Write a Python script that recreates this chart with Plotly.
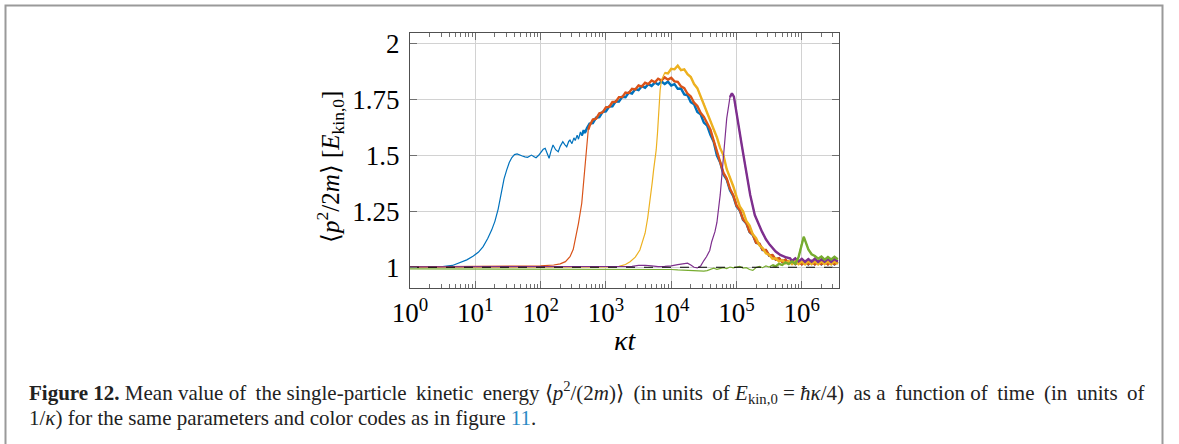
import numpy as np
import plotly.graph_objects as go

W, H = 1179, 444

# ---- data: log10(kappa t) and <p^2/2m> in units of E_kin,0 ----
blue_log_t = [0.00, 0.30, 0.50, 0.65, 0.77, 0.87, 0.97, 1.05, 1.12, 1.19, 1.25, 1.30, 1.35, 1.40,
              1.44, 1.48, 1.52, 1.56, 1.60, 1.64, 1.68, 1.72, 1.76, 1.80, 1.83, 1.86, 1.90, 1.93,
              1.97, 2.00, 2.04, 2.07, 2.10, 2.13, 2.16, 2.19, 2.23, 2.27, 2.30, 2.34, 2.37, 2.40,
              2.43, 2.45, 2.48, 2.51, 2.53, 2.56, 2.58, 2.61, 2.63, 2.66, 2.68, 2.71,
              2.75, 2.80, 2.85, 2.90, 2.95, 3.00, 3.05, 3.10, 3.15, 3.20, 3.25, 3.30, 3.35, 3.40,
              3.45, 3.50, 3.55, 3.60, 3.65, 3.70, 3.75, 3.80, 3.85, 3.90, 3.95, 4.00, 4.05, 4.10,
              4.15, 4.20, 4.25, 4.30, 4.35, 4.40, 4.45, 4.50, 4.55, 4.60, 4.65, 4.70, 4.75, 4.80,
              4.85, 4.90, 4.95, 5.00, 5.05, 5.10, 5.15, 5.20, 5.25, 5.30, 5.35, 5.40, 5.45, 5.50,
              5.55, 5.60, 5.65, 5.70, 5.75, 5.80, 5.85, 5.90, 5.95, 6.00, 6.05, 6.10, 6.15, 6.20,
              6.25, 6.30, 6.35, 6.40, 6.45, 6.50, 6.55]
blue_vals = [1.000, 1.000, 1.003, 1.008, 1.020, 1.033, 1.050, 1.068, 1.092, 1.128, 1.166, 1.205, 1.260, 1.335,
             1.395, 1.434, 1.468, 1.490, 1.503, 1.506, 1.503, 1.497, 1.493, 1.491, 1.496, 1.501, 1.494, 1.489,
             1.500, 1.512, 1.527, 1.531, 1.508, 1.487, 1.520, 1.546, 1.525, 1.516, 1.540, 1.561, 1.548, 1.538,
             1.562, 1.568, 1.552, 1.578, 1.566, 1.590, 1.572, 1.604, 1.588, 1.612, 1.600, 1.622,
             1.642, 1.644, 1.668, 1.670, 1.694, 1.696, 1.718, 1.719, 1.741, 1.740, 1.761, 1.759, 1.780, 1.776,
             1.796, 1.791, 1.809, 1.802, 1.818, 1.810, 1.825, 1.816, 1.830, 1.819, 1.829, 1.812, 1.818, 1.797,
             1.798, 1.772, 1.768, 1.737, 1.728, 1.694, 1.683, 1.646, 1.633, 1.592, 1.561, 1.499, 1.468, 1.414,
             1.391, 1.344, 1.318, 1.272, 1.253, 1.212, 1.196, 1.157, 1.144, 1.109, 1.104, 1.077, 1.076, 1.052,
             1.054, 1.034, 1.040, 1.024, 1.033, 1.019, 1.028, 1.015, 1.026, 1.014, 1.026, 1.013, 1.027, 1.014,
             1.026, 1.013, 1.027, 1.014, 1.026, 1.013, 1.026]

red_log_t = [0.00, 1.50, 2.00, 2.20, 2.30, 2.38, 2.45, 2.50, 2.53, 2.58, 2.63, 2.66, 2.69, 2.71, 2.73,
             2.75, 2.80, 2.85, 2.90, 2.95, 3.00, 3.05, 3.10, 3.15, 3.20, 3.25, 3.30, 3.35, 3.40,
             3.45, 3.50, 3.55, 3.60, 3.65, 3.70, 3.75, 3.80, 3.85, 3.90, 3.95, 4.00, 4.05, 4.10,
             4.15, 4.20, 4.25, 4.30, 4.35, 4.40, 4.45, 4.50, 4.55, 4.60, 4.65, 4.70, 4.75, 4.80,
             4.85, 4.90, 4.95, 5.00, 5.05, 5.10, 5.15, 5.20, 5.25, 5.30, 5.35, 5.40, 5.45, 5.50,
             5.55, 5.60, 5.65, 5.70, 5.75, 5.80, 5.85, 5.90, 5.95, 6.00, 6.05, 6.10, 6.15, 6.20,
             6.25, 6.30, 6.35, 6.40, 6.45, 6.50, 6.55]
red_vals = [1.002, 1.003, 1.006, 1.010, 1.015, 1.025, 1.047, 1.080, 1.122, 1.196, 1.286, 1.390, 1.479, 1.568, 1.615,
            1.632, 1.660, 1.664, 1.688, 1.692, 1.714, 1.716, 1.738, 1.739, 1.760, 1.760, 1.780, 1.778, 1.797,
            1.794, 1.812, 1.807, 1.824, 1.818, 1.834, 1.826, 1.842, 1.834, 1.848, 1.838, 1.846, 1.830, 1.828,
            1.808, 1.800, 1.775, 1.763, 1.735, 1.720, 1.690, 1.672, 1.640, 1.615, 1.566, 1.515, 1.474, 1.422,
            1.396, 1.350, 1.322, 1.276, 1.256, 1.214, 1.198, 1.158, 1.146, 1.110, 1.106, 1.078, 1.077, 1.053,
            1.055, 1.035, 1.041, 1.024, 1.034, 1.018, 1.029, 1.014, 1.027, 1.013, 1.026, 1.014, 1.027, 1.013,
            1.026, 1.014, 1.026, 1.013, 1.027, 1.014, 1.026]

yellow_log_t = [0.00, 1.00, 2.00, 3.00, 3.20, 3.30, 3.37, 3.45, 3.52, 3.56, 3.60, 3.64, 3.68, 3.71, 3.73,
                3.77, 3.79, 3.81, 3.83, 3.85,
                3.90, 3.95, 4.00, 4.05, 4.10, 4.15, 4.20, 4.25, 4.30, 4.35, 4.40, 4.45, 4.50, 4.55,
                4.60, 4.65, 4.70, 4.75, 4.80, 4.85, 4.90, 4.95, 5.00, 5.05, 5.10, 5.15, 5.20, 5.25,
                5.30, 5.35, 5.40, 5.45, 5.50, 5.55, 5.60, 5.65, 5.70, 5.75, 5.80, 5.85, 5.90, 5.95,
                6.00, 6.05, 6.10, 6.15, 6.20, 6.25, 6.30, 6.35, 6.40, 6.45, 6.50, 6.55]
yellow_vals = [1.000, 1.000, 1.001, 1.002, 1.004, 1.012, 1.025, 1.045, 1.077, 1.110, 1.152, 1.220, 1.300, 1.380, 1.434,
               1.524, 1.600, 1.700, 1.790, 1.835,
               1.868, 1.866, 1.886, 1.884, 1.900, 1.880, 1.884, 1.862, 1.850, 1.818, 1.800, 1.762, 1.730, 1.688,
               1.655, 1.612, 1.580, 1.532, 1.500, 1.438, 1.402, 1.362, 1.315, 1.272, 1.250, 1.207, 1.186, 1.147,
               1.130, 1.098, 1.086, 1.062, 1.056, 1.038, 1.040, 1.026, 1.032, 1.018, 1.028, 1.014, 1.027, 1.014,
               1.026, 1.013, 1.027, 1.014, 1.026, 1.013, 1.027, 1.014, 1.026, 1.013, 1.027, 1.014]

purple_log_t = [0.00, 1.00, 2.00, 3.00, 3.40, 3.50, 3.60, 3.70, 3.80, 3.90, 4.00, 4.10, 4.20, 4.25, 4.30,
                4.35, 4.40, 4.45, 4.50, 4.54, 4.59, 4.62, 4.67, 4.70, 4.75, 4.80, 4.85, 4.90, 4.93,
                4.96, 4.98, 5.03, 5.08, 5.14, 5.21, 5.28, 5.35, 5.39, 5.45, 5.51, 5.60, 5.67, 5.75, 5.82,
                5.85, 5.90, 5.95, 6.00, 6.05, 6.10, 6.15, 6.20, 6.25, 6.30, 6.35, 6.40, 6.45, 6.50, 6.55]
purple_vals = [1.002, 1.002, 1.002, 1.003, 1.004, 1.008, 1.009, 1.006, 1.003, 1.004, 1.006, 1.012, 1.016, 1.018, 1.010,
               1.000, 0.997, 1.005, 1.030, 1.047, 1.075, 1.114, 1.159, 1.200, 1.323, 1.487, 1.665, 1.760, 1.777,
               1.762, 1.725, 1.620, 1.546, 1.442, 1.323, 1.233, 1.180, 1.159, 1.125, 1.100, 1.070, 1.055, 1.045, 1.040,
               1.028, 1.040, 1.026, 1.038, 1.024, 1.037, 1.025, 1.038, 1.024, 1.036, 1.025, 1.038, 1.024, 1.037, 1.026]

green_log_t = [0.00, 1.00, 2.00, 3.00, 3.90, 4.00, 4.10, 4.20, 4.30, 4.40, 4.50, 4.55, 4.60, 4.65, 4.70,
               4.75, 4.80, 4.85, 4.90, 4.95, 5.00, 5.05, 5.10, 5.15, 5.20, 5.25, 5.30, 5.35, 5.40,
               5.45, 5.50, 5.55, 5.60, 5.65, 5.70, 5.75, 5.80, 5.85, 5.90, 5.95, 6.00, 6.03, 6.06,
               6.10, 6.15, 6.20, 6.25, 6.30, 6.35, 6.40, 6.45, 6.50, 6.55]
green_vals = [0.993, 0.993, 0.993, 0.993, 0.993, 0.990, 0.988, 0.986, 0.984, 0.983, 0.983, 0.985, 0.990, 0.996, 0.991,
              0.995, 0.998, 0.994, 1.001, 0.997, 0.999, 1.004, 0.996, 0.998, 0.990, 0.986, 0.999, 1.004, 0.998,
              1.006, 1.001, 1.010, 1.004, 1.015, 1.010, 1.022, 1.014, 1.026, 1.016, 1.045, 1.110, 1.136, 1.112,
              1.080, 1.058, 1.050, 1.038, 1.048, 1.034, 1.046, 1.035, 1.047, 1.036]

reference_level = 1.0

x_tick_exponents = [0, 1, 2, 3, 4, 5, 6]
y_tick_values = [1, 1.25, 1.5, 1.75, 2]
y_tick_labels = ["1", "1.25", "1.5", "1.75", "2"]

# ---- styling ----
SERIF = "Liberation Serif"
X_LOG_RANGE = [0, 6.574]
Y_RANGE = [0.906, 2.045]
PLOT_L, PLOT_R, PLOT_T, PLOT_B = 410, 839.3, 33.3, 288.3

series = [
    ("#0072BD", blue_log_t, blue_vals, 2.62),
    ("#D95319", red_log_t, red_vals, 2.72),
    ("#EDB120", yellow_log_t, yellow_vals, 3.86),
    ("#7E2F8E", purple_log_t, purple_vals, 4.90),
    ("#77AC30", green_log_t, green_vals, 5.55),
]

fig = go.Figure()
for color, lt, vals, noisy_from in series:
    t = 10 ** np.array(lt)
    v = np.array(vals)
    fig.add_trace(go.Scatter(x=t, y=v, mode="lines",
                             line=dict(color=color, width=1.2), hoverinfo="skip", showlegend=False))
    m = np.array(lt) >= noisy_from
    fig.add_trace(go.Scatter(x=t[m], y=v[m], mode="lines",
                             line=dict(color=color, width=2.4), hoverinfo="skip", showlegend=False))

fig.add_trace(go.Scatter(x=[10 ** X_LOG_RANGE[0], 10 ** X_LOG_RANGE[1]],
                         y=[reference_level, reference_level], mode="lines",
                         line=dict(color="black", width=1, dash="dash"),
                         hoverinfo="skip", showlegend=False))

minor_vals = [m * 10 ** e for e in range(0, 7) for m in range(2, 10) if m * 10 ** e < 10 ** X_LOG_RANGE[1]]

axis_common = dict(
    automargin=False,
    showline=True, linecolor="#505050", linewidth=1.3, mirror="ticks",
    ticks="inside", ticklen=7, tickwidth=1, tickcolor="#707070",
    showgrid=True, gridcolor="#d2d2d2", gridwidth=1, zeroline=False,
    tickfont=dict(family=SERIF, size=27, color="black"),
)

fig.update_layout(
    width=W, height=H,
    margin=dict(l=0, r=0, t=0, b=0, autoexpand=False),
    paper_bgcolor="white", plot_bgcolor="white",
    xaxis=dict(
        type="log", range=X_LOG_RANGE,
        domain=[PLOT_L / W, PLOT_R / W],
        tickmode="array",
        tickvals=[10 ** e for e in x_tick_exponents],
        ticktext=[f"10<sup>{e}</sup>" for e in x_tick_exponents],
        minor=dict(ticks="inside", ticklen=4, tickcolor="#707070", tickmode="array",
                   tickvals=minor_vals, showgrid=False),
        **axis_common,
    ),
    yaxis=dict(
        range=Y_RANGE,
        domain=[1 - PLOT_B / H, 1 - PLOT_T / H],
        tickmode="array", tickvals=y_tick_values, ticktext=y_tick_labels,
        ticklabelstandoff=4,
        **axis_common,
    ),
)

def px(x, y):
    return x / W, 1 - y / H

ann = []
# axis titles
x, y = px((PLOT_L + PLOT_R) / 2, 340)
ann.append(dict(x=x, y=y, text="<i>κt</i>", font=dict(family=SERIF, size=28, color="black")))
x, y = px(330, 167)
ann.append(dict(x=x, y=y, textangle=-90,
                text="⟨<i>p</i><sup>2</sup>/2<i>m</i>⟩ [<i>E</i><sub>kin,0</sub>]",
                font=dict(family=SERIF, size=25, color="black")))

# caption (first line is justified to the full text width with thin spaces)
TS = "\u2009"
cap1 = ("<b>Figure 12.</b> Mean value of " + TS + "the single-particle " + TS + "kinetic " + TS + "energy "
        "⟨<i>p</i><sup>2</sup>/(2<i>m</i>)⟩ " + TS + "(in units " + TS + "of <i>E</i><sub>kin,0</sub> = <i>ħκ</i>/4) "
        + TS + "as a " + TS + "function of " + TS + "time " + TS + "(in " + TS + "units " + TS + "of")
cap2 = ("1/<i>κ</i>) for the same parameters and color codes as in figure "
        "<span style='color:#2a8ac4'>11</span>.")
for txt, yy in [(cap1, 392), (cap2, 418)]:
    x, y = px(27, yy)
    ann.append(dict(x=x, y=y, text=txt, xanchor="left",
                    font=dict(family=SERIF, size=21, color="#222")))
for a in ann:
    a.setdefault("xanchor", "center")
    a.update(xref="paper", yref="paper", yanchor="middle", showarrow=False)
fig.update_layout(annotations=ann)

# page frame
fig.add_shape(type="rect", xref="paper", yref="paper",
              x0=5.5 / W, x1=1162.5 / W, y0=1 - 5.5 / H, y1=-0.2,
              line=dict(color="#9a9a9a", width=2), fillcolor="rgba(0,0,0,0)", layer="above")

fig.write_html("out.html")
